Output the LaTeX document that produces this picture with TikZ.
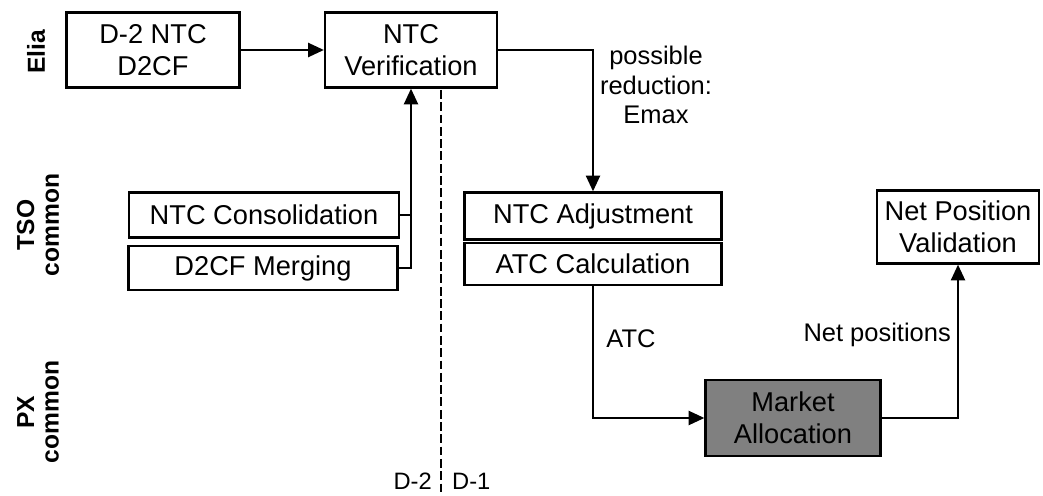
\documentclass[tikz,border=0pt]{standalone}
\usepackage{fontspec}
\setmainfont{Liberation Sans}
\usetikzlibrary{arrows.meta}
\tikzset{
  proc/.style={draw, line width=1.3pt, align=center, inner sep=0pt, font=\fontsize{15.5}{18.5}\selectfont},
  flow/.style={line width=1.3pt, -{Triangle[length=9pt,width=8pt]}},
  lane/.style={rotate=90, align=center, font=\fontsize{14}{14}\selectfont\bfseries},
  tag/.style={align=center, font=\fontsize{14.5}{17}\selectfont},
}
\begin{document}
\begin{tikzpicture}[x=0.02cm,y=-0.02cm]
\useasboundingbox (0,0) rectangle (1043,496);
\node[lane] (elia) at (36,52) {Elia};
\node[lane] (tso) at (38,225) {TSO\\common};
\node[lane] (px) at (38,412) {PX\\common};
\node[proc, minimum width=3.46cm, minimum height=1.5cm] (d2ntc) at (153,50) {D-2 NTC\\D2CF};
\node[proc, minimum width=3.44cm, minimum height=1.5cm] (verif) at (411,50) {NTC\\Verification};
\node[proc, minimum width=5.4cm, minimum height=0.9cm] (consol) at (264,215) {NTC Consolidation};
\node[proc, minimum width=5.38cm, minimum height=0.88cm] (merge) at (263,268) {D2CF Merging};
\node[proc, minimum width=5.14cm, minimum height=0.94cm] (adjust) at (593,216) {NTC Adjustment};
\node[proc, minimum width=5.14cm, minimum height=0.84cm] (atccalc) at (593,264) {ATC Calculation};
\node[proc, fill=black!50, minimum width=3.5cm, minimum height=1.52cm] (market) at (793,418) {Market\\Allocation};
\node[proc, minimum width=3.24cm, minimum height=1.46cm] (netval) at (958,227) {Net Position\\Validation};
\node[tag] (reduc) at (656,85) {possible\\reduction:\\Emax};
\node[tag] (atc) at (631,339) {ATC};
\node[tag, anchor=east] (netpos) at (957,335) {Net positions};
\node[tag, anchor=east, font=\fontsize{13.5}{16}\selectfont] (dm2) at (438,481) {D-2};
\node[tag, anchor=west, font=\fontsize{13.5}{16}\selectfont] (dm1) at (446,481) {D-1};
\coordinate (cuttop) at (441,90);
\coordinate (cutbot) at (441,496);
\draw[flow] (d2ntc) -- (verif);
\draw[flow] (verif.east) -| (adjust.north);
\draw[line width=1.3pt] (consol.east) -- (consol.east -| verif.south);
\draw[flow] (merge.east) -| (verif.south);
\draw[line width=1pt, dashed, dash pattern=on 5pt off 2pt] (cuttop) -- (cutbot);
\draw[flow] (atccalc.south) |- (market.west);
\draw[flow] (market.east) -| (netval.south);
\end{tikzpicture}
\end{document}
